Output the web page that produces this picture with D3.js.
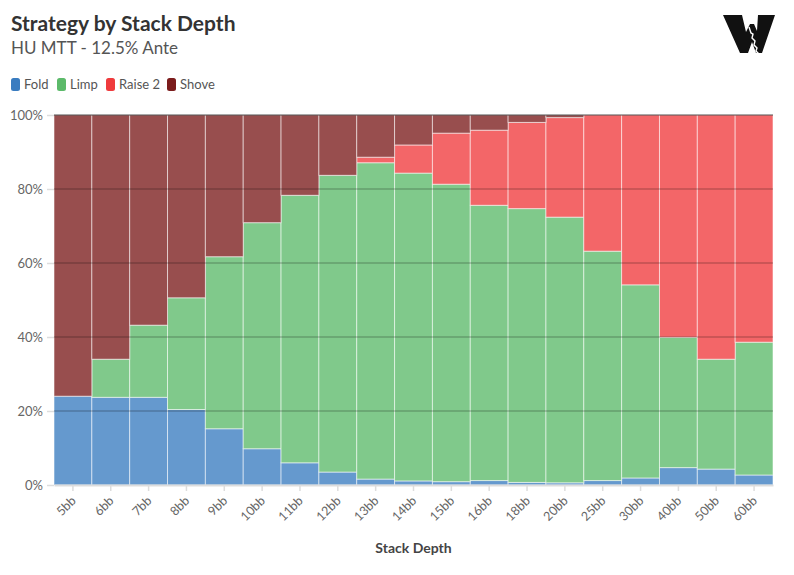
<!DOCTYPE html>
<html>
<head>
<meta charset="utf-8">
<script src="https://cdn.jsdelivr.net/npm/d3@7"></script>
<style>
  body { margin: 0; background: #fff; }
  text { font-family: Lato, "Noto Sans", sans-serif; }
</style>
</head>
<body>
<script>
var W = 794, H = 575;
var margin = {top: 115, right: 21, bottom: 90, left: 54};
var width = W - margin.left - margin.right;
var height = H - margin.top - margin.bottom;

// stack depths on the x axis
var depths = ["5bb","6bb","7bb","8bb","9bb","10bb","11bb","12bb","13bb","14bb","15bb","16bb","18bb","20bb","25bb","30bb","40bb","50bb","60bb"];
// percentage of hands per action
var fold  = [24.0, 23.7, 23.7, 20.4, 15.2,  9.8,  6.0,  3.5,  1.6,  1.1,  0.9,  1.2,  0.7,  0.6,  1.2,  1.9,  4.7,  4.3,  2.7];
var limp  = [ 0.0, 10.3, 19.5, 30.2, 46.5, 61.1, 72.3, 80.2, 85.5, 83.2, 80.4, 74.4, 74.0, 71.8, 62.0, 52.2, 35.2, 29.7, 35.9];
var raise = [ 0.0,  0.0,  0.0,  0.0,  0.0,  0.0,  0.0,  0.0,  1.5,  7.6, 13.8, 20.3, 23.3, 26.9, 36.8, 45.9, 60.1, 66.0, 61.4];
var shove = [76.0, 66.0, 56.8, 49.4, 38.3, 29.1, 21.7, 16.3, 11.4,  8.1,  4.9,  4.1,  2.0,  0.7,  0.0,  0.0,  0.0,  0.0,  0.0];
var actions = ["Fold", "Limp", "Raise 2", "Shove"];
var yTicks = [0, 20, 40, 60, 80, 100];

var colors = {"Fold": "#3a7cc0", "Limp": "#5cba6a", "Raise 2": "#ef3b3d", "Shove": "#7b1c1c"};

var rows = depths.map(function(d, i) {
  return {depth: d, "Fold": fold[i], "Limp": limp[i], "Raise 2": raise[i], "Shove": shove[i]};
});

var svg = d3.select("body").append("svg")
  .attr("width", W)
  .attr("height", H);

// title and subtitle
svg.append("text").attr("x", 11).attr("y", 31)
  .style("font-size", "21px").style("font-weight", "bold").style("fill", "#333")
  .text("Strategy by Stack Depth");
svg.append("text").attr("x", 11).attr("y", 54)
  .style("font-size", "17px").style("fill", "#555")
  .text("HU MTT - 12.5% Ante");

// legend
var legendX = [11, 57, 106, 167];
var legend = svg.selectAll(".legend").data(actions).enter().append("g")
  .attr("class", "legend")
  .attr("transform", function(d, i) { return "translate(" + legendX[i] + ",78)"; });
legend.append("rect").attr("width", 9).attr("height", 13).attr("rx", 2.5)
  .style("fill", function(d) { return colors[d]; });
legend.append("text").attr("x", 13).attr("y", 11)
  .style("font-size", "13px").style("fill", "#555")
  .text(function(d) { return d; });

// logo (W mark with a torn cut)
var logo = svg.append("g");
logo.append("path")
  .attr("d", "M723,15 L742,15 L746,32 L750,24 L754,24 L757,31 L758,15 L775,15 L762,53 L756,53 L752,42 L748,53 L740,53 Z")
  .style("fill", "#111");
logo.append("path")
  .attr("d", "M749,27 L751,33 L753,34 L752,38 L755,41 L754,45 L757,48 L756,51 L759,54")
  .style("fill", "none").style("stroke", "#fff").style("stroke-width", 1.4);

var graph = svg.append("g")
  .attr("transform", "translate(" + margin.left + "," + margin.top + ")");

var x = d3.scaleBand().domain(depths).range([0, width]).padding(0);
var y = d3.scaleLinear().domain([0, 100]).range([height, 0]);

var stack = d3.stack().keys(actions);
var series = stack(rows);

graph.selectAll(".layer").data(series).enter().append("g")
  .attr("class", "layer")
  .style("fill", function(d) { return colors[d.key]; })
  .selectAll("rect").data(function(d) { return d; }).enter().append("rect")
  .attr("x", function(d) { return x(d.data.depth); })
  .attr("y", function(d) { return y(d[1]); })
  .attr("width", x.bandwidth())
  .attr("height", function(d) { return y(d[0]) - y(d[1]); })
  .style("fill-opacity", 0.78)
  .style("stroke", "#fff")
  .style("stroke-opacity", 0.55)
  .style("stroke-width", 1);

// grid lines over the bars
graph.selectAll(".grid").data(yTicks.filter(function(t) { return t > 0; })).enter().append("line")
  .attr("x1", 0).attr("x2", width)
  .attr("y1", function(d) { return y(d); }).attr("y2", function(d) { return y(d); })
  .style("stroke", "#000").style("stroke-opacity", function(d) { return d === 100 ? 0.45 : 0.22; })
  .style("stroke-width", 1.6);

// y axis
var yAxis = graph.append("g")
  .call(d3.axisLeft(y).tickValues(yTicks).tickFormat(function(d) { return d + "%"; }).tickSize(7).tickPadding(4));
yAxis.select(".domain").remove();
yAxis.selectAll(".tick line").style("stroke", "#ddd").style("stroke-width", 1.5);
yAxis.selectAll(".tick text").style("font-size", "13px").style("fill", "#666")
  .style("font-family", "Lato, 'Noto Sans', sans-serif");

// x axis
var xAxis = graph.append("g")
  .attr("transform", "translate(0," + height + ")")
  .call(d3.axisBottom(x).tickSize(6).tickSizeOuter(0));
xAxis.select(".domain").style("stroke", "#ddd").style("stroke-width", 2);
xAxis.selectAll(".tick line").style("stroke", "#ddd").style("stroke-width", 1.5);
xAxis.selectAll(".tick text")
  .style("font-size", "12.5px").style("fill", "#666")
  .style("font-family", "Lato, 'Noto Sans', sans-serif")
  .attr("text-anchor", "end")
  .attr("x", -9).attr("y", 10).attr("dy", "0.35em")
  .attr("transform", "rotate(-45)");

svg.append("text")
  .attr("x", margin.left + width / 2).attr("y", 553)
  .attr("text-anchor", "middle")
  .style("font-size", "14px").style("font-weight", "bold").style("fill", "#444")
  .text("Stack Depth");
</script>
</body>
</html>
